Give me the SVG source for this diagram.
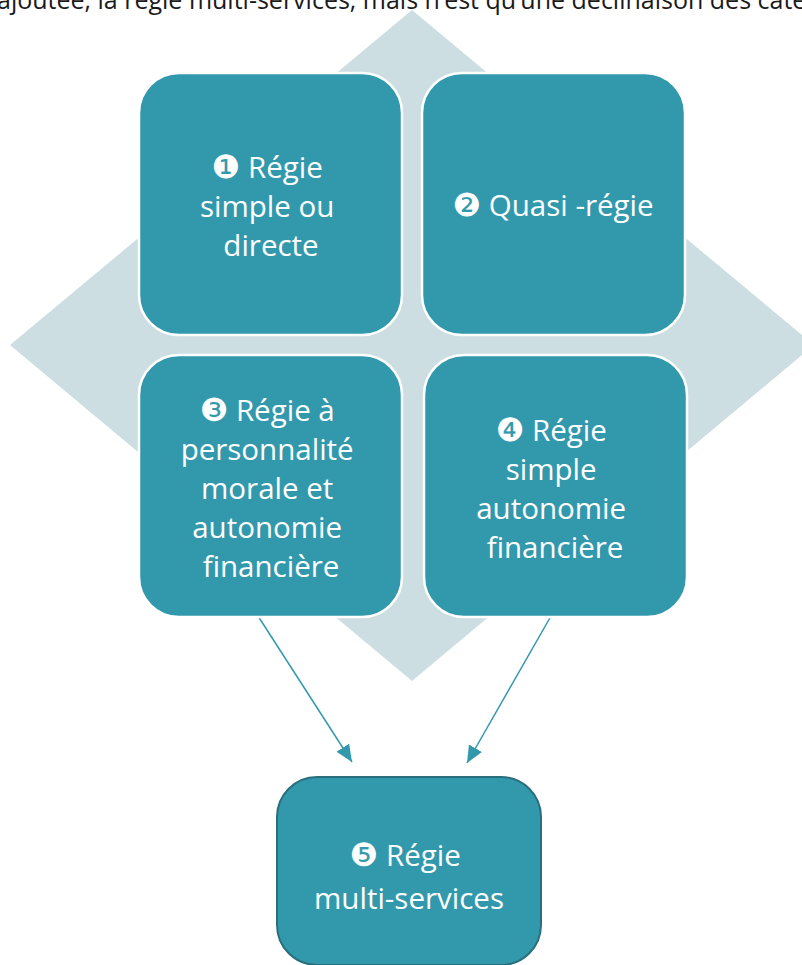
<svg xmlns="http://www.w3.org/2000/svg" width="802" height="965" viewBox="0 0 802 965">
  <style>
    .box { fill: #3299ad; stroke: #ffffff; stroke-width: 2.5; }
    .box-end { fill: #3299ad; stroke: #2a6f7c; stroke-width: 2; }
    .label { font-family: "Open Sans", "Noto Sans", "DejaVu Sans", sans-serif; font-size: 29.5px; fill: #ffffff; text-anchor: middle; }
    .num { font-family: "DejaVu Sans", sans-serif; font-size: 32px; }
    .caption { font-family: "Open Sans", "Noto Sans", sans-serif; font-size: 25px; fill: #1a1a1a; }
    .link { stroke: #3299ad; stroke-width: 1.5; fill: none; marker-end: url(#arrow); }
  </style>
  <defs>
    <marker id="arrow" markerUnits="userSpaceOnUse" markerWidth="18" markerHeight="16" refX="17" refY="7.5" orient="auto">
      <path d="M0,0 L17,7.5 L0,15 z" fill="#3299ad"/>
    </marker>
  </defs>

  <rect width="802" height="965" fill="#ffffff"/>

  <!-- running text line above the figure -->
  <text class="caption" x="-3" y="9">ajoutée, la régie multi-services, mais n’est qu’une déclinaison des catégories</text>

  <!-- background diamond -->
  <polygon points="412,10 814,345 412,681 10,345" fill="#cddee2"/>

  <!-- connectors -->
  <g id="connectors">
    <line class="link" x1="258" y1="616" x2="352" y2="762"/>
    <line class="link" x1="551" y1="616" x2="467" y2="763"/>
  </g>

  <g id="node1">
    <rect class="box" x="139" y="73" width="263" height="262" rx="40"/>
    <text class="label">
      <tspan x="271" y="178"><tspan class="num">❶</tspan> Régie</tspan>
      <tspan x="271" y="217">simple ou</tspan>
      <tspan x="271" y="256">directe</tspan>
    </text>
  </g>

  <g id="node2">
    <rect class="box" x="422" y="73" width="263" height="262" rx="40"/>
    <text class="label">
      <tspan x="553" y="216"><tspan class="num">❷</tspan> Quasi -régie</tspan>
    </text>
  </g>

  <g id="node3">
    <rect class="box" x="139" y="355" width="263" height="262" rx="40"/>
    <text class="label">
      <tspan x="271" y="421"><tspan class="num">❸</tspan> Régie à</tspan>
      <tspan x="271" y="460">personnalité</tspan>
      <tspan x="271" y="499">morale et</tspan>
      <tspan x="271" y="538">autonomie</tspan>
      <tspan x="271" y="577">financière</tspan>
    </text>
  </g>

  <g id="node4">
    <rect class="box" x="424" y="355" width="263" height="262" rx="40"/>
    <text class="label">
      <tspan x="555" y="441"><tspan class="num">❹</tspan> Régie</tspan>
      <tspan x="555" y="480">simple</tspan>
      <tspan x="555" y="519">autonomie</tspan>
      <tspan x="555" y="558">financière</tspan>
    </text>
  </g>

  <g id="node5">
    <rect class="box-end" x="277" y="777" width="264" height="188" rx="40"/>
    <text class="label">
      <tspan x="409" y="866"><tspan class="num">❺</tspan> Régie</tspan>
      <tspan x="409" y="909">multi-services</tspan>
    </text>
  </g>
</svg>
